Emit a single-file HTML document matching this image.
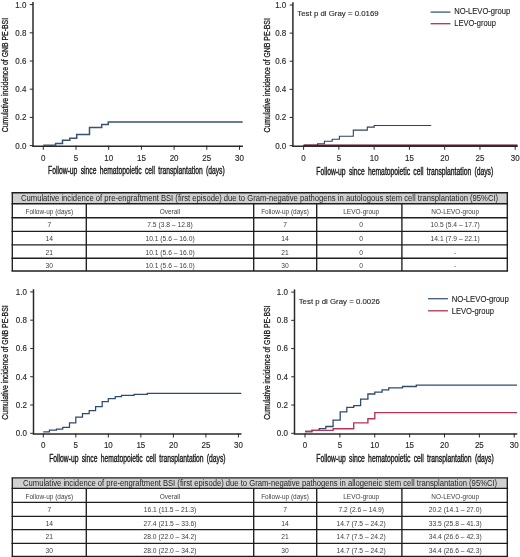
<!DOCTYPE html>
<html><head><meta charset="utf-8"><style>
html,body{margin:0;padding:0;background:#fff;}
svg{display:block;font-family:"Liberation Sans", sans-serif;will-change:transform;}
</style></head><body>
<svg width="520" height="557" viewBox="0 0 520 557">
<rect width="520" height="557" fill="#fff"/>
<line x1="33" y1="1.9" x2="33" y2="146.5" stroke="#2a2a2a" stroke-width="1.5"/>
<line x1="32.25" y1="146.2" x2="242.9" y2="146.2" stroke="#2a2a2a" stroke-width="1.5"/>
<line x1="29.7" y1="145.60" x2="33" y2="145.60" stroke="#2a2a2a" stroke-width="1"/>
<text transform="translate(26.40,148.50) scale(0.93,1)" x="0" y="0" font-size="8.6" text-anchor="end" fill="#2a2a2a" font-weight="400" stroke="#2a2a2a" stroke-width="0.15">0.0</text>
<line x1="29.7" y1="117.40" x2="33" y2="117.40" stroke="#2a2a2a" stroke-width="1"/>
<text transform="translate(26.40,120.30) scale(0.93,1)" x="0" y="0" font-size="8.6" text-anchor="end" fill="#2a2a2a" font-weight="400" stroke="#2a2a2a" stroke-width="0.15">0.2</text>
<line x1="29.7" y1="89.20" x2="33" y2="89.20" stroke="#2a2a2a" stroke-width="1"/>
<text transform="translate(26.40,92.10) scale(0.93,1)" x="0" y="0" font-size="8.6" text-anchor="end" fill="#2a2a2a" font-weight="400" stroke="#2a2a2a" stroke-width="0.15">0.4</text>
<line x1="29.7" y1="61.00" x2="33" y2="61.00" stroke="#2a2a2a" stroke-width="1"/>
<text transform="translate(26.40,63.90) scale(0.93,1)" x="0" y="0" font-size="8.6" text-anchor="end" fill="#2a2a2a" font-weight="400" stroke="#2a2a2a" stroke-width="0.15">0.6</text>
<line x1="29.7" y1="32.80" x2="33" y2="32.80" stroke="#2a2a2a" stroke-width="1"/>
<text transform="translate(26.40,35.70) scale(0.93,1)" x="0" y="0" font-size="8.6" text-anchor="end" fill="#2a2a2a" font-weight="400" stroke="#2a2a2a" stroke-width="0.15">0.8</text>
<line x1="29.7" y1="4.60" x2="33" y2="4.60" stroke="#2a2a2a" stroke-width="1"/>
<text transform="translate(26.40,7.50) scale(0.93,1)" x="0" y="0" font-size="8.6" text-anchor="end" fill="#2a2a2a" font-weight="400" stroke="#2a2a2a" stroke-width="0.15">1.0</text>
<line x1="43.30" y1="145.6" x2="43.30" y2="149.79999999999998" stroke="#2a2a2a" stroke-width="1"/>
<text transform="translate(43.30,160.50) scale(0.93,1)" x="0" y="0" font-size="8.6" text-anchor="middle" fill="#2a2a2a" font-weight="400" stroke="#2a2a2a" stroke-width="0.15">0</text>
<line x1="76.00" y1="145.6" x2="76.00" y2="149.79999999999998" stroke="#2a2a2a" stroke-width="1"/>
<text transform="translate(76.00,160.50) scale(0.93,1)" x="0" y="0" font-size="8.6" text-anchor="middle" fill="#2a2a2a" font-weight="400" stroke="#2a2a2a" stroke-width="0.15">5</text>
<line x1="108.70" y1="145.6" x2="108.70" y2="149.79999999999998" stroke="#2a2a2a" stroke-width="1"/>
<text transform="translate(108.70,160.50) scale(0.93,1)" x="0" y="0" font-size="8.6" text-anchor="middle" fill="#2a2a2a" font-weight="400" stroke="#2a2a2a" stroke-width="0.15">10</text>
<line x1="141.40" y1="145.6" x2="141.40" y2="149.79999999999998" stroke="#2a2a2a" stroke-width="1"/>
<text transform="translate(141.40,160.50) scale(0.93,1)" x="0" y="0" font-size="8.6" text-anchor="middle" fill="#2a2a2a" font-weight="400" stroke="#2a2a2a" stroke-width="0.15">15</text>
<line x1="174.10" y1="145.6" x2="174.10" y2="149.79999999999998" stroke="#2a2a2a" stroke-width="1"/>
<text transform="translate(174.10,160.50) scale(0.93,1)" x="0" y="0" font-size="8.6" text-anchor="middle" fill="#2a2a2a" font-weight="400" stroke="#2a2a2a" stroke-width="0.15">20</text>
<line x1="206.80" y1="145.6" x2="206.80" y2="149.79999999999998" stroke="#2a2a2a" stroke-width="1"/>
<text transform="translate(206.80,160.50) scale(0.93,1)" x="0" y="0" font-size="8.6" text-anchor="middle" fill="#2a2a2a" font-weight="400" stroke="#2a2a2a" stroke-width="0.15">25</text>
<line x1="239.50" y1="145.6" x2="239.50" y2="149.79999999999998" stroke="#2a2a2a" stroke-width="1"/>
<text transform="translate(239.50,160.50) scale(0.93,1)" x="0" y="0" font-size="8.6" text-anchor="middle" fill="#2a2a2a" font-weight="400" stroke="#2a2a2a" stroke-width="0.15">30</text>
<text transform="translate(48.10,174.30) scale(0.6259963864385163,1)" x="0" y="0" font-size="10.8" text-anchor="start" fill="#1a1a1a" font-weight="400" stroke="#1a1a1a" stroke-width="0.4" style="word-spacing:2.2px">Follow-up since hematopoietic cell transplantation (days)</text>
<text transform="translate(8.4,75.1) rotate(-90) scale(0.7177,1)" x="0" y="0" font-size="9.6" text-anchor="middle" fill="#1a1a1a" stroke="#1a1a1a" stroke-width="0.3">Cumulative incidence of GNB PE-BSI</text>
<path d="M43.30,145.30 L55.60,145.30 L55.60,143.50 L62.50,143.50 L62.50,140.20 L69.80,140.20 L69.80,138.30 L76.70,138.30 L76.70,134.50 L89.50,134.50 L89.50,127.50 L101.70,127.50 L101.70,124.40 L108.30,124.40 L108.30,122.00 L242.70,122.00" fill="none" stroke="#3a526e" stroke-width="1.5" stroke-linejoin="miter"/>
<line x1="292.9" y1="2.3" x2="292.9" y2="146.5" stroke="#2a2a2a" stroke-width="1.5"/>
<line x1="292.15" y1="146.2" x2="517.7" y2="146.2" stroke="#2a2a2a" stroke-width="1.5"/>
<line x1="289.59999999999997" y1="145.60" x2="292.9" y2="145.60" stroke="#2a2a2a" stroke-width="1"/>
<text transform="translate(286.30,148.50) scale(0.93,1)" x="0" y="0" font-size="8.6" text-anchor="end" fill="#2a2a2a" font-weight="400" stroke="#2a2a2a" stroke-width="0.15">0.0</text>
<line x1="289.59999999999997" y1="117.48" x2="292.9" y2="117.48" stroke="#2a2a2a" stroke-width="1"/>
<text transform="translate(286.30,120.38) scale(0.93,1)" x="0" y="0" font-size="8.6" text-anchor="end" fill="#2a2a2a" font-weight="400" stroke="#2a2a2a" stroke-width="0.15">0.2</text>
<line x1="289.59999999999997" y1="89.36" x2="292.9" y2="89.36" stroke="#2a2a2a" stroke-width="1"/>
<text transform="translate(286.30,92.26) scale(0.93,1)" x="0" y="0" font-size="8.6" text-anchor="end" fill="#2a2a2a" font-weight="400" stroke="#2a2a2a" stroke-width="0.15">0.4</text>
<line x1="289.59999999999997" y1="61.24" x2="292.9" y2="61.24" stroke="#2a2a2a" stroke-width="1"/>
<text transform="translate(286.30,64.14) scale(0.93,1)" x="0" y="0" font-size="8.6" text-anchor="end" fill="#2a2a2a" font-weight="400" stroke="#2a2a2a" stroke-width="0.15">0.6</text>
<line x1="289.59999999999997" y1="33.12" x2="292.9" y2="33.12" stroke="#2a2a2a" stroke-width="1"/>
<text transform="translate(286.30,36.02) scale(0.93,1)" x="0" y="0" font-size="8.6" text-anchor="end" fill="#2a2a2a" font-weight="400" stroke="#2a2a2a" stroke-width="0.15">0.8</text>
<line x1="289.59999999999997" y1="5.00" x2="292.9" y2="5.00" stroke="#2a2a2a" stroke-width="1"/>
<text transform="translate(286.30,7.90) scale(0.93,1)" x="0" y="0" font-size="8.6" text-anchor="end" fill="#2a2a2a" font-weight="400" stroke="#2a2a2a" stroke-width="0.15">1.0</text>
<line x1="303.60" y1="145.6" x2="303.60" y2="149.79999999999998" stroke="#2a2a2a" stroke-width="1"/>
<text transform="translate(303.60,160.50) scale(0.93,1)" x="0" y="0" font-size="8.6" text-anchor="middle" fill="#2a2a2a" font-weight="400" stroke="#2a2a2a" stroke-width="0.15">0</text>
<line x1="338.87" y1="145.6" x2="338.87" y2="149.79999999999998" stroke="#2a2a2a" stroke-width="1"/>
<text transform="translate(338.87,160.50) scale(0.93,1)" x="0" y="0" font-size="8.6" text-anchor="middle" fill="#2a2a2a" font-weight="400" stroke="#2a2a2a" stroke-width="0.15">5</text>
<line x1="374.14" y1="145.6" x2="374.14" y2="149.79999999999998" stroke="#2a2a2a" stroke-width="1"/>
<text transform="translate(374.14,160.50) scale(0.93,1)" x="0" y="0" font-size="8.6" text-anchor="middle" fill="#2a2a2a" font-weight="400" stroke="#2a2a2a" stroke-width="0.15">10</text>
<line x1="409.41" y1="145.6" x2="409.41" y2="149.79999999999998" stroke="#2a2a2a" stroke-width="1"/>
<text transform="translate(409.41,160.50) scale(0.93,1)" x="0" y="0" font-size="8.6" text-anchor="middle" fill="#2a2a2a" font-weight="400" stroke="#2a2a2a" stroke-width="0.15">15</text>
<line x1="444.68" y1="145.6" x2="444.68" y2="149.79999999999998" stroke="#2a2a2a" stroke-width="1"/>
<text transform="translate(444.68,160.50) scale(0.93,1)" x="0" y="0" font-size="8.6" text-anchor="middle" fill="#2a2a2a" font-weight="400" stroke="#2a2a2a" stroke-width="0.15">20</text>
<line x1="479.95" y1="145.6" x2="479.95" y2="149.79999999999998" stroke="#2a2a2a" stroke-width="1"/>
<text transform="translate(479.95,160.50) scale(0.93,1)" x="0" y="0" font-size="8.6" text-anchor="middle" fill="#2a2a2a" font-weight="400" stroke="#2a2a2a" stroke-width="0.15">25</text>
<line x1="515.22" y1="145.6" x2="515.22" y2="149.79999999999998" stroke="#2a2a2a" stroke-width="1"/>
<text transform="translate(515.22,160.50) scale(0.93,1)" x="0" y="0" font-size="8.6" text-anchor="middle" fill="#2a2a2a" font-weight="400" stroke="#2a2a2a" stroke-width="0.15">30</text>
<text transform="translate(316.30,174.50) scale(0.6277677401069898,1)" x="0" y="0" font-size="10.8" text-anchor="start" fill="#1a1a1a" font-weight="400" stroke="#1a1a1a" stroke-width="0.4" style="word-spacing:2.2px">Follow-up since hematopoietic cell transplantation (days)</text>
<text transform="translate(270.0,75.3) rotate(-90) scale(0.7177,1)" x="0" y="0" font-size="9.6" text-anchor="middle" fill="#1a1a1a" stroke="#1a1a1a" stroke-width="0.3">Cumulative incidence of GNB PE-BSI</text>
<path d="M303.60,145.40 L317.50,145.40 L317.50,143.80 L324.40,143.80 L324.40,141.30 L332.20,141.30 L332.20,139.20 L339.40,139.20 L339.40,136.30 L353.30,136.30 L353.30,130.10 L367.30,130.10 L367.30,127.10 L374.20,127.10 L374.20,125.50 L431.20,125.50" fill="none" stroke="#2a4360" stroke-width="1.1" stroke-linejoin="miter"/>
<path d="M303.60,145.30 L517.50,145.30" fill="none" stroke="#6a1028" stroke-width="1.6" stroke-linejoin="miter"/>
<text transform="translate(297.30,16.20) scale(0.9826854441979357,1)" x="0" y="0" font-size="8" text-anchor="start" fill="#262626" font-weight="400" stroke="#262626" stroke-width="0.12">Test p di Gray = 0.0169</text>
<line x1="430.6" y1="12.1" x2="450.4" y2="12.1" stroke="#3b5a80" stroke-width="1.3"/>
<line x1="430.6" y1="23.7" x2="450.4" y2="23.7" stroke="#b0304f" stroke-width="1.3"/>
<text transform="translate(454.20,14.20) scale(0.9160016690137173,1)" x="0" y="0" font-size="8.3" text-anchor="start" fill="#222" font-weight="400" stroke="#222" stroke-width="0.1">NO-LEVO-group</text>
<text transform="translate(454.20,26.20) scale(0.9059443386064495,1)" x="0" y="0" font-size="8.3" text-anchor="start" fill="#222" font-weight="400" stroke="#222" stroke-width="0.1">LEVO-group</text>
<line x1="33.5" y1="289.2" x2="33.5" y2="434.2" stroke="#2a2a2a" stroke-width="1.5"/>
<line x1="32.75" y1="433.90000000000003" x2="241.5" y2="433.90000000000003" stroke="#2a2a2a" stroke-width="1.5"/>
<line x1="30.2" y1="433.30" x2="33.5" y2="433.30" stroke="#2a2a2a" stroke-width="1"/>
<text transform="translate(26.90,436.20) scale(0.93,1)" x="0" y="0" font-size="8.6" text-anchor="end" fill="#2a2a2a" font-weight="400" stroke="#2a2a2a" stroke-width="0.15">0.0</text>
<line x1="30.2" y1="405.02" x2="33.5" y2="405.02" stroke="#2a2a2a" stroke-width="1"/>
<text transform="translate(26.90,407.92) scale(0.93,1)" x="0" y="0" font-size="8.6" text-anchor="end" fill="#2a2a2a" font-weight="400" stroke="#2a2a2a" stroke-width="0.15">0.2</text>
<line x1="30.2" y1="376.74" x2="33.5" y2="376.74" stroke="#2a2a2a" stroke-width="1"/>
<text transform="translate(26.90,379.64) scale(0.93,1)" x="0" y="0" font-size="8.6" text-anchor="end" fill="#2a2a2a" font-weight="400" stroke="#2a2a2a" stroke-width="0.15">0.4</text>
<line x1="30.2" y1="348.46" x2="33.5" y2="348.46" stroke="#2a2a2a" stroke-width="1"/>
<text transform="translate(26.90,351.36) scale(0.93,1)" x="0" y="0" font-size="8.6" text-anchor="end" fill="#2a2a2a" font-weight="400" stroke="#2a2a2a" stroke-width="0.15">0.6</text>
<line x1="30.2" y1="320.18" x2="33.5" y2="320.18" stroke="#2a2a2a" stroke-width="1"/>
<text transform="translate(26.90,323.08) scale(0.93,1)" x="0" y="0" font-size="8.6" text-anchor="end" fill="#2a2a2a" font-weight="400" stroke="#2a2a2a" stroke-width="0.15">0.8</text>
<line x1="30.2" y1="291.90" x2="33.5" y2="291.90" stroke="#2a2a2a" stroke-width="1"/>
<text transform="translate(26.90,294.80) scale(0.93,1)" x="0" y="0" font-size="8.6" text-anchor="end" fill="#2a2a2a" font-weight="400" stroke="#2a2a2a" stroke-width="0.15">1.0</text>
<line x1="43.30" y1="433.3" x2="43.30" y2="437.5" stroke="#2a2a2a" stroke-width="1"/>
<text transform="translate(43.30,448.20) scale(0.93,1)" x="0" y="0" font-size="8.6" text-anchor="middle" fill="#2a2a2a" font-weight="400" stroke="#2a2a2a" stroke-width="0.15">0</text>
<line x1="75.82" y1="433.3" x2="75.82" y2="437.5" stroke="#2a2a2a" stroke-width="1"/>
<text transform="translate(75.82,448.20) scale(0.93,1)" x="0" y="0" font-size="8.6" text-anchor="middle" fill="#2a2a2a" font-weight="400" stroke="#2a2a2a" stroke-width="0.15">5</text>
<line x1="108.34" y1="433.3" x2="108.34" y2="437.5" stroke="#2a2a2a" stroke-width="1"/>
<text transform="translate(108.34,448.20) scale(0.93,1)" x="0" y="0" font-size="8.6" text-anchor="middle" fill="#2a2a2a" font-weight="400" stroke="#2a2a2a" stroke-width="0.15">10</text>
<line x1="140.86" y1="433.3" x2="140.86" y2="437.5" stroke="#2a2a2a" stroke-width="1"/>
<text transform="translate(140.86,448.20) scale(0.93,1)" x="0" y="0" font-size="8.6" text-anchor="middle" fill="#2a2a2a" font-weight="400" stroke="#2a2a2a" stroke-width="0.15">15</text>
<line x1="173.38" y1="433.3" x2="173.38" y2="437.5" stroke="#2a2a2a" stroke-width="1"/>
<text transform="translate(173.38,448.20) scale(0.93,1)" x="0" y="0" font-size="8.6" text-anchor="middle" fill="#2a2a2a" font-weight="400" stroke="#2a2a2a" stroke-width="0.15">20</text>
<line x1="205.90" y1="433.3" x2="205.90" y2="437.5" stroke="#2a2a2a" stroke-width="1"/>
<text transform="translate(205.90,448.20) scale(0.93,1)" x="0" y="0" font-size="8.6" text-anchor="middle" fill="#2a2a2a" font-weight="400" stroke="#2a2a2a" stroke-width="0.15">25</text>
<line x1="238.42" y1="433.3" x2="238.42" y2="437.5" stroke="#2a2a2a" stroke-width="1"/>
<text transform="translate(238.42,448.20) scale(0.93,1)" x="0" y="0" font-size="8.6" text-anchor="middle" fill="#2a2a2a" font-weight="400" stroke="#2a2a2a" stroke-width="0.15">30</text>
<text transform="translate(49.20,461.60) scale(0.6249335742374323,1)" x="0" y="0" font-size="10.8" text-anchor="start" fill="#1a1a1a" font-weight="400" stroke="#1a1a1a" stroke-width="0.4" style="word-spacing:2.2px">Follow-up since hematopoietic cell transplantation (days)</text>
<text transform="translate(8.4,362.5) rotate(-90) scale(0.7177,1)" x="0" y="0" font-size="9.6" text-anchor="middle" fill="#1a1a1a" stroke="#1a1a1a" stroke-width="0.3">Cumulative incidence of GNB PE-BSI</text>
<path d="M43.30,431.90 L49.40,431.90 L49.40,430.20 L56.50,430.20 L56.50,429.00 L62.70,429.00 L62.70,427.30 L69.50,427.30 L69.50,422.90 L75.80,422.90 L75.80,417.00 L82.50,417.00 L82.50,413.70 L89.20,413.70 L89.20,410.70 L95.60,410.70 L95.60,406.50 L102.20,406.50 L102.20,401.70 L108.30,401.70 L108.30,398.50 L115.20,398.50 L115.20,396.70 L121.50,396.70 L121.50,395.30 L134.10,395.30 L134.10,394.40 L147.30,394.40 L147.30,393.30 L241.30,393.30" fill="none" stroke="#2f4b6c" stroke-width="1.25" stroke-linejoin="miter"/>
<line x1="294.5" y1="289.4" x2="294.5" y2="434.2" stroke="#2a2a2a" stroke-width="1.5"/>
<line x1="293.75" y1="433.90000000000003" x2="517.3" y2="433.90000000000003" stroke="#2a2a2a" stroke-width="1.5"/>
<line x1="291.2" y1="433.30" x2="294.5" y2="433.30" stroke="#2a2a2a" stroke-width="1"/>
<text transform="translate(287.90,436.20) scale(0.93,1)" x="0" y="0" font-size="8.6" text-anchor="end" fill="#2a2a2a" font-weight="400" stroke="#2a2a2a" stroke-width="0.15">0.0</text>
<line x1="291.2" y1="405.06" x2="294.5" y2="405.06" stroke="#2a2a2a" stroke-width="1"/>
<text transform="translate(287.90,407.96) scale(0.93,1)" x="0" y="0" font-size="8.6" text-anchor="end" fill="#2a2a2a" font-weight="400" stroke="#2a2a2a" stroke-width="0.15">0.2</text>
<line x1="291.2" y1="376.82" x2="294.5" y2="376.82" stroke="#2a2a2a" stroke-width="1"/>
<text transform="translate(287.90,379.72) scale(0.93,1)" x="0" y="0" font-size="8.6" text-anchor="end" fill="#2a2a2a" font-weight="400" stroke="#2a2a2a" stroke-width="0.15">0.4</text>
<line x1="291.2" y1="348.58" x2="294.5" y2="348.58" stroke="#2a2a2a" stroke-width="1"/>
<text transform="translate(287.90,351.48) scale(0.93,1)" x="0" y="0" font-size="8.6" text-anchor="end" fill="#2a2a2a" font-weight="400" stroke="#2a2a2a" stroke-width="0.15">0.6</text>
<line x1="291.2" y1="320.34" x2="294.5" y2="320.34" stroke="#2a2a2a" stroke-width="1"/>
<text transform="translate(287.90,323.24) scale(0.93,1)" x="0" y="0" font-size="8.6" text-anchor="end" fill="#2a2a2a" font-weight="400" stroke="#2a2a2a" stroke-width="0.15">0.8</text>
<line x1="291.2" y1="292.10" x2="294.5" y2="292.10" stroke="#2a2a2a" stroke-width="1"/>
<text transform="translate(287.90,295.00) scale(0.93,1)" x="0" y="0" font-size="8.6" text-anchor="end" fill="#2a2a2a" font-weight="400" stroke="#2a2a2a" stroke-width="0.15">1.0</text>
<line x1="305.00" y1="433.3" x2="305.00" y2="437.5" stroke="#2a2a2a" stroke-width="1"/>
<text transform="translate(305.00,448.20) scale(0.93,1)" x="0" y="0" font-size="8.6" text-anchor="middle" fill="#2a2a2a" font-weight="400" stroke="#2a2a2a" stroke-width="0.15">0</text>
<line x1="339.87" y1="433.3" x2="339.87" y2="437.5" stroke="#2a2a2a" stroke-width="1"/>
<text transform="translate(339.87,448.20) scale(0.93,1)" x="0" y="0" font-size="8.6" text-anchor="middle" fill="#2a2a2a" font-weight="400" stroke="#2a2a2a" stroke-width="0.15">5</text>
<line x1="374.74" y1="433.3" x2="374.74" y2="437.5" stroke="#2a2a2a" stroke-width="1"/>
<text transform="translate(374.74,448.20) scale(0.93,1)" x="0" y="0" font-size="8.6" text-anchor="middle" fill="#2a2a2a" font-weight="400" stroke="#2a2a2a" stroke-width="0.15">10</text>
<line x1="409.61" y1="433.3" x2="409.61" y2="437.5" stroke="#2a2a2a" stroke-width="1"/>
<text transform="translate(409.61,448.20) scale(0.93,1)" x="0" y="0" font-size="8.6" text-anchor="middle" fill="#2a2a2a" font-weight="400" stroke="#2a2a2a" stroke-width="0.15">15</text>
<line x1="444.48" y1="433.3" x2="444.48" y2="437.5" stroke="#2a2a2a" stroke-width="1"/>
<text transform="translate(444.48,448.20) scale(0.93,1)" x="0" y="0" font-size="8.6" text-anchor="middle" fill="#2a2a2a" font-weight="400" stroke="#2a2a2a" stroke-width="0.15">20</text>
<line x1="479.35" y1="433.3" x2="479.35" y2="437.5" stroke="#2a2a2a" stroke-width="1"/>
<text transform="translate(479.35,448.20) scale(0.93,1)" x="0" y="0" font-size="8.6" text-anchor="middle" fill="#2a2a2a" font-weight="400" stroke="#2a2a2a" stroke-width="0.15">25</text>
<line x1="514.22" y1="433.3" x2="514.22" y2="437.5" stroke="#2a2a2a" stroke-width="1"/>
<text transform="translate(514.22,448.20) scale(0.93,1)" x="0" y="0" font-size="8.6" text-anchor="middle" fill="#2a2a2a" font-weight="400" stroke="#2a2a2a" stroke-width="0.15">30</text>
<text transform="translate(316.30,461.60) scale(0.6288305523080738,1)" x="0" y="0" font-size="10.8" text-anchor="start" fill="#1a1a1a" font-weight="400" stroke="#1a1a1a" stroke-width="0.4" style="word-spacing:2.2px">Follow-up since hematopoietic cell transplantation (days)</text>
<text transform="translate(270.2,362.7) rotate(-90) scale(0.7177,1)" x="0" y="0" font-size="9.6" text-anchor="middle" fill="#1a1a1a" stroke="#1a1a1a" stroke-width="0.3">Cumulative incidence of GNB PE-BSI</text>
<path d="M305.00,431.50 L311.90,431.50 L311.90,430.40 L319.20,430.40 L319.20,428.70 L325.80,428.70 L325.80,426.50 L333.10,426.50 L333.10,420.20 L340.20,420.20 L340.20,411.90 L346.80,411.90 L346.80,407.30 L353.70,407.30 L353.70,405.60 L360.60,405.60 L360.60,399.20 L367.90,399.20 L367.90,394.00 L374.80,394.00 L374.80,392.10 L382.10,392.10 L382.10,389.80 L388.70,389.80 L388.70,387.90 L402.50,387.90 L402.50,386.50 L416.30,386.50 L416.30,385.20 L517.00,385.20" fill="none" stroke="#2f4b6c" stroke-width="1.3" stroke-linejoin="miter"/>
<path d="M305.00,431.50 L311.90,431.50 L311.90,430.40 L333.10,430.40 L333.10,428.80 L353.70,428.80 L353.70,422.90 L367.90,422.90 L367.90,418.80 L374.80,418.80 L374.80,412.60 L517.00,412.60" fill="none" stroke="#b8335a" stroke-width="1.4" stroke-linejoin="miter"/>
<text transform="translate(298.70,304.40) scale(0.980273946175364,1)" x="0" y="0" font-size="8" text-anchor="start" fill="#262626" font-weight="400" stroke="#262626" stroke-width="0.12">Test p di Gray = 0.0026</text>
<line x1="428.1" y1="298.7" x2="447.9" y2="298.7" stroke="#3b5a80" stroke-width="1.3"/>
<line x1="428.1" y1="310.8" x2="447.9" y2="310.8" stroke="#b0304f" stroke-width="1.3"/>
<text transform="translate(451.70,301.90) scale(0.9306707348876023,1)" x="0" y="0" font-size="8.3" text-anchor="start" fill="#222" font-weight="400" stroke="#222" stroke-width="0.1">NO-LEVO-group</text>
<text transform="translate(451.70,314.00) scale(0.9167809933744693,1)" x="0" y="0" font-size="8.3" text-anchor="start" fill="#222" font-weight="400" stroke="#222" stroke-width="0.1">LEVO-group</text>
<rect x="12.3" y="192.7" width="495.0" height="11.0" fill="#d0d0d0"/>
<line x1="11.5" y1="192.7" x2="508.1" y2="192.7" stroke="#1e1e1e" stroke-width="1.35"/>
<line x1="11.5" y1="203.7" x2="508.1" y2="203.7" stroke="#1e1e1e" stroke-width="1.35"/>
<line x1="11.5" y1="217.7" x2="508.1" y2="217.7" stroke="#1e1e1e" stroke-width="1.35"/>
<line x1="11.5" y1="231.4" x2="508.1" y2="231.4" stroke="#1e1e1e" stroke-width="1.35"/>
<line x1="11.5" y1="244.9" x2="508.1" y2="244.9" stroke="#1e1e1e" stroke-width="1.35"/>
<line x1="11.5" y1="258.2" x2="508.1" y2="258.2" stroke="#1e1e1e" stroke-width="1.35"/>
<line x1="11.5" y1="271.0" x2="508.1" y2="271.0" stroke="#1e1e1e" stroke-width="1.35"/>
<line x1="12.3" y1="192.7" x2="12.3" y2="271.0" stroke="#1e1e1e" stroke-width="1.35"/>
<line x1="86.3" y1="203.7" x2="86.3" y2="271.0" stroke="#1e1e1e" stroke-width="1.35"/>
<line x1="253.7" y1="203.7" x2="253.7" y2="271.0" stroke="#1e1e1e" stroke-width="1.35"/>
<line x1="316.7" y1="203.7" x2="316.7" y2="271.0" stroke="#1e1e1e" stroke-width="1.35"/>
<line x1="401.9" y1="203.7" x2="401.9" y2="271.0" stroke="#1e1e1e" stroke-width="1.35"/>
<line x1="507.3" y1="192.7" x2="507.3" y2="271.0" stroke="#1e1e1e" stroke-width="1.35"/>
<text transform="translate(21.00,201.00) scale(0.9016834883455525,1)" x="0" y="0" font-size="8.5" text-anchor="start" fill="#1e1e1e" font-weight="400" >Cumulative incidence of pre-engraftment BSI (first episode) due to Gram-negative pathogens in autologous stem cell transplantation (95%CI)</text>
<text transform="translate(49.30,213.70) scale(0.85,1)" x="0" y="0" font-size="7.6" text-anchor="middle" fill="#404040" font-weight="400" >Follow-up (days)</text>
<text transform="translate(170.00,213.70) scale(0.85,1)" x="0" y="0" font-size="7.6" text-anchor="middle" fill="#404040" font-weight="400" >Overall</text>
<text transform="translate(285.00,213.70) scale(0.85,1)" x="0" y="0" font-size="7.6" text-anchor="middle" fill="#404040" font-weight="400" >Follow-up (days)</text>
<text transform="translate(361.20,213.70) scale(0.85,1)" x="0" y="0" font-size="7.6" text-anchor="middle" fill="#404040" font-weight="400" >LEVO-group</text>
<text transform="translate(455.20,213.70) scale(0.85,1)" x="0" y="0" font-size="7.6" text-anchor="middle" fill="#404040" font-weight="400" >NO-LEVO-group</text>
<text transform="translate(49.30,227.40) scale(0.885,1)" x="0" y="0" font-size="7.6" text-anchor="middle" fill="#404040" font-weight="400" >7</text>
<text transform="translate(170.00,227.40) scale(0.885,1)" x="0" y="0" font-size="7.6" text-anchor="middle" fill="#404040" font-weight="400" >7.5 (3.8 – 12.8)</text>
<text transform="translate(285.00,227.40) scale(0.885,1)" x="0" y="0" font-size="7.6" text-anchor="middle" fill="#404040" font-weight="400" >7</text>
<text transform="translate(361.20,227.40) scale(0.885,1)" x="0" y="0" font-size="7.6" text-anchor="middle" fill="#404040" font-weight="400" >0</text>
<text transform="translate(455.20,227.40) scale(0.885,1)" x="0" y="0" font-size="7.6" text-anchor="middle" fill="#404040" font-weight="400" >10.5 (5.4 – 17.7)</text>
<text transform="translate(49.30,241.10) scale(0.885,1)" x="0" y="0" font-size="7.6" text-anchor="middle" fill="#404040" font-weight="400" >14</text>
<text transform="translate(170.00,241.10) scale(0.885,1)" x="0" y="0" font-size="7.6" text-anchor="middle" fill="#404040" font-weight="400" >10.1 (5.6 – 16.0)</text>
<text transform="translate(285.00,241.10) scale(0.885,1)" x="0" y="0" font-size="7.6" text-anchor="middle" fill="#404040" font-weight="400" >14</text>
<text transform="translate(361.20,241.10) scale(0.885,1)" x="0" y="0" font-size="7.6" text-anchor="middle" fill="#404040" font-weight="400" >0</text>
<text transform="translate(455.20,241.10) scale(0.885,1)" x="0" y="0" font-size="7.6" text-anchor="middle" fill="#404040" font-weight="400" >14.1 (7.9 – 22.1)</text>
<text transform="translate(49.30,254.60) scale(0.885,1)" x="0" y="0" font-size="7.6" text-anchor="middle" fill="#404040" font-weight="400" >21</text>
<text transform="translate(170.00,254.60) scale(0.885,1)" x="0" y="0" font-size="7.6" text-anchor="middle" fill="#404040" font-weight="400" >10.1 (5.6 – 16.0)</text>
<text transform="translate(285.00,254.60) scale(0.885,1)" x="0" y="0" font-size="7.6" text-anchor="middle" fill="#404040" font-weight="400" >21</text>
<text transform="translate(361.20,254.60) scale(0.885,1)" x="0" y="0" font-size="7.6" text-anchor="middle" fill="#404040" font-weight="400" >0</text>
<text transform="translate(455.20,254.60) scale(0.885,1)" x="0" y="0" font-size="7.6" text-anchor="middle" fill="#404040" font-weight="400" >-</text>
<text transform="translate(49.30,267.90) scale(0.885,1)" x="0" y="0" font-size="7.6" text-anchor="middle" fill="#404040" font-weight="400" >30</text>
<text transform="translate(170.00,267.90) scale(0.885,1)" x="0" y="0" font-size="7.6" text-anchor="middle" fill="#404040" font-weight="400" >10.1 (5.6 – 16.0)</text>
<text transform="translate(285.00,267.90) scale(0.885,1)" x="0" y="0" font-size="7.6" text-anchor="middle" fill="#404040" font-weight="400" >30</text>
<text transform="translate(361.20,267.90) scale(0.885,1)" x="0" y="0" font-size="7.6" text-anchor="middle" fill="#404040" font-weight="400" >0</text>
<text transform="translate(455.20,267.90) scale(0.885,1)" x="0" y="0" font-size="7.6" text-anchor="middle" fill="#404040" font-weight="400" >-</text>
<rect x="12.3" y="477.9" width="495.0" height="10.400000000000034" fill="#d0d0d0"/>
<line x1="11.5" y1="477.9" x2="508.1" y2="477.9" stroke="#1e1e1e" stroke-width="1.35"/>
<line x1="11.5" y1="488.3" x2="508.1" y2="488.3" stroke="#1e1e1e" stroke-width="1.35"/>
<line x1="11.5" y1="502.4" x2="508.1" y2="502.4" stroke="#1e1e1e" stroke-width="1.35"/>
<line x1="11.5" y1="516.4" x2="508.1" y2="516.4" stroke="#1e1e1e" stroke-width="1.35"/>
<line x1="11.5" y1="529.6" x2="508.1" y2="529.6" stroke="#1e1e1e" stroke-width="1.35"/>
<line x1="11.5" y1="543.3" x2="508.1" y2="543.3" stroke="#1e1e1e" stroke-width="1.35"/>
<line x1="11.5" y1="556.3" x2="508.1" y2="556.3" stroke="#1e1e1e" stroke-width="1.35"/>
<line x1="12.3" y1="477.9" x2="12.3" y2="556.3" stroke="#1e1e1e" stroke-width="1.35"/>
<line x1="86.3" y1="488.3" x2="86.3" y2="556.3" stroke="#1e1e1e" stroke-width="1.35"/>
<line x1="253.7" y1="488.3" x2="253.7" y2="556.3" stroke="#1e1e1e" stroke-width="1.35"/>
<line x1="316.7" y1="488.3" x2="316.7" y2="556.3" stroke="#1e1e1e" stroke-width="1.35"/>
<line x1="401.9" y1="488.3" x2="401.9" y2="556.3" stroke="#1e1e1e" stroke-width="1.35"/>
<line x1="507.3" y1="477.9" x2="507.3" y2="556.3" stroke="#1e1e1e" stroke-width="1.35"/>
<text transform="translate(23.00,485.60) scale(0.9016627610432334,1)" x="0" y="0" font-size="8.5" text-anchor="start" fill="#1e1e1e" font-weight="400" >Cumulative incidence of pre-engraftment BSI (first episode) due to Gram-negative pathogens in allogeneic stem cell transplantation (95%CI)</text>
<text transform="translate(49.30,499.20) scale(0.85,1)" x="0" y="0" font-size="7.6" text-anchor="middle" fill="#404040" font-weight="400" >Follow-up (days)</text>
<text transform="translate(170.00,499.20) scale(0.85,1)" x="0" y="0" font-size="7.6" text-anchor="middle" fill="#404040" font-weight="400" >Overall</text>
<text transform="translate(285.00,499.20) scale(0.85,1)" x="0" y="0" font-size="7.6" text-anchor="middle" fill="#404040" font-weight="400" >Follow-up (days)</text>
<text transform="translate(361.20,499.20) scale(0.85,1)" x="0" y="0" font-size="7.6" text-anchor="middle" fill="#404040" font-weight="400" >LEVO-group</text>
<text transform="translate(455.20,499.20) scale(0.85,1)" x="0" y="0" font-size="7.6" text-anchor="middle" fill="#404040" font-weight="400" >NO-LEVO-group</text>
<text transform="translate(49.30,512.10) scale(0.885,1)" x="0" y="0" font-size="7.6" text-anchor="middle" fill="#404040" font-weight="400" >7</text>
<text transform="translate(170.00,512.10) scale(0.885,1)" x="0" y="0" font-size="7.6" text-anchor="middle" fill="#404040" font-weight="400" >16.1 (11.5 – 21.3)</text>
<text transform="translate(285.00,512.10) scale(0.885,1)" x="0" y="0" font-size="7.6" text-anchor="middle" fill="#404040" font-weight="400" >7</text>
<text transform="translate(361.20,512.10) scale(0.885,1)" x="0" y="0" font-size="7.6" text-anchor="middle" fill="#404040" font-weight="400" >7.2 (2.6 – 14.9)</text>
<text transform="translate(455.20,512.10) scale(0.885,1)" x="0" y="0" font-size="7.6" text-anchor="middle" fill="#404040" font-weight="400" >20.2 (14.1 – 27.0)</text>
<text transform="translate(49.30,526.10) scale(0.885,1)" x="0" y="0" font-size="7.6" text-anchor="middle" fill="#404040" font-weight="400" >14</text>
<text transform="translate(170.00,526.10) scale(0.885,1)" x="0" y="0" font-size="7.6" text-anchor="middle" fill="#404040" font-weight="400" >27.4 (21.5 – 33.6)</text>
<text transform="translate(285.00,526.10) scale(0.885,1)" x="0" y="0" font-size="7.6" text-anchor="middle" fill="#404040" font-weight="400" >14</text>
<text transform="translate(361.20,526.10) scale(0.885,1)" x="0" y="0" font-size="7.6" text-anchor="middle" fill="#404040" font-weight="400" >14.7 (7.5 – 24.2)</text>
<text transform="translate(455.20,526.10) scale(0.885,1)" x="0" y="0" font-size="7.6" text-anchor="middle" fill="#404040" font-weight="400" >33.5 (25.8 – 41.3)</text>
<text transform="translate(49.30,539.30) scale(0.885,1)" x="0" y="0" font-size="7.6" text-anchor="middle" fill="#404040" font-weight="400" >21</text>
<text transform="translate(170.00,539.30) scale(0.885,1)" x="0" y="0" font-size="7.6" text-anchor="middle" fill="#404040" font-weight="400" >28.0 (22.0 – 34.2)</text>
<text transform="translate(285.00,539.30) scale(0.885,1)" x="0" y="0" font-size="7.6" text-anchor="middle" fill="#404040" font-weight="400" >21</text>
<text transform="translate(361.20,539.30) scale(0.885,1)" x="0" y="0" font-size="7.6" text-anchor="middle" fill="#404040" font-weight="400" >14.7 (7.5 – 24.2)</text>
<text transform="translate(455.20,539.30) scale(0.885,1)" x="0" y="0" font-size="7.6" text-anchor="middle" fill="#404040" font-weight="400" >34.4 (26.6 – 42.3)</text>
<text transform="translate(49.30,553.00) scale(0.885,1)" x="0" y="0" font-size="7.6" text-anchor="middle" fill="#404040" font-weight="400" >30</text>
<text transform="translate(170.00,553.00) scale(0.885,1)" x="0" y="0" font-size="7.6" text-anchor="middle" fill="#404040" font-weight="400" >28.0 (22.0 – 34.2)</text>
<text transform="translate(285.00,553.00) scale(0.885,1)" x="0" y="0" font-size="7.6" text-anchor="middle" fill="#404040" font-weight="400" >30</text>
<text transform="translate(361.20,553.00) scale(0.885,1)" x="0" y="0" font-size="7.6" text-anchor="middle" fill="#404040" font-weight="400" >14.7 (7.5 – 24.2)</text>
<text transform="translate(455.20,553.00) scale(0.885,1)" x="0" y="0" font-size="7.6" text-anchor="middle" fill="#404040" font-weight="400" >34.4 (26.6 – 42.3)</text>
</svg>
</body></html>
